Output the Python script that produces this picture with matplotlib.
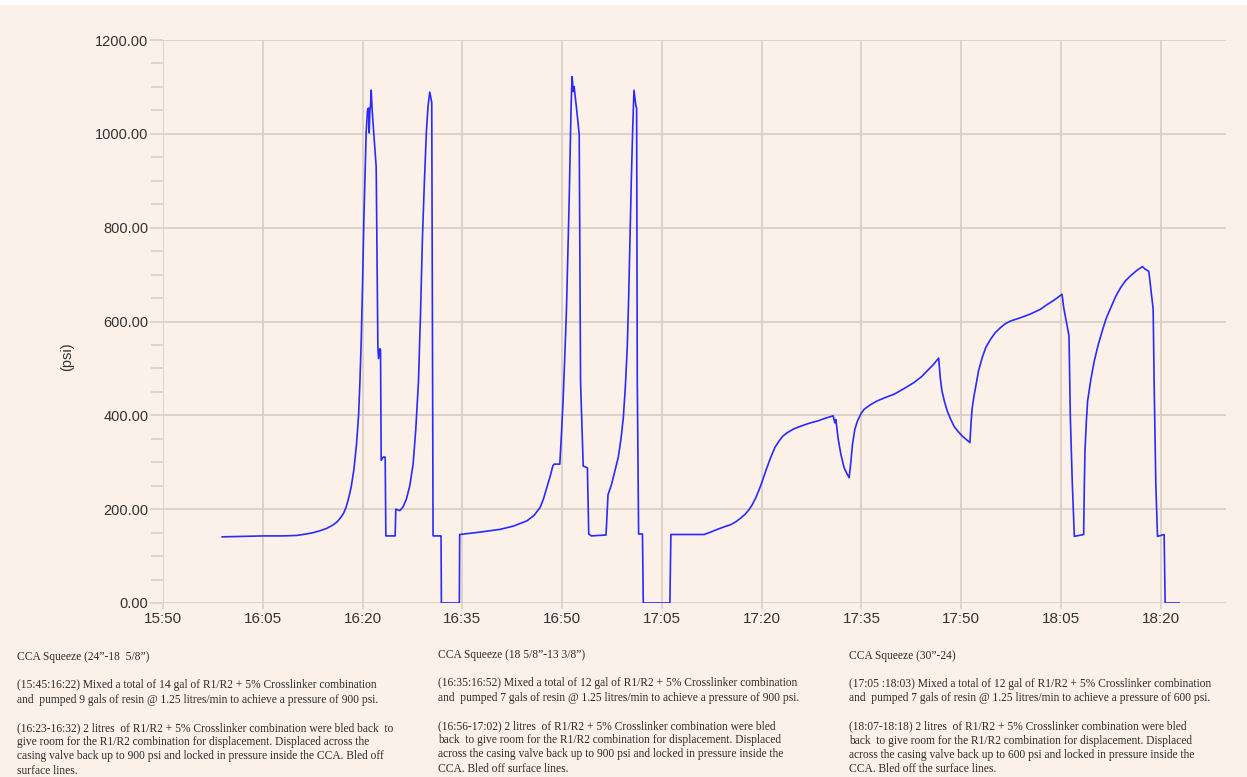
import matplotlib
matplotlib.use("Agg")
import matplotlib.pyplot as plt
from matplotlib.ticker import MultipleLocator
from matplotlib.patches import Rectangle

# ---- data: minutes after 15:50 and pressure (psi) ----
minutes = [8.9, 12, 15.1, 18, 20.1, 21.5, 22.6, 23.6, 24.6, 25.4, 26.1, 26.6, 27.1, 27.5,
           27.8, 28.1, 28.3, 28.7, 29.1, 29.4, 29.6, 29.8, 30.0, 30.2, 30.4, 30.55, 30.75,
           30.9, 31.0, 31.1, 31.2, 31.3, 31.45, 31.75, 32.05, 32.3, 32.4, 32.6, 32.7, 32.8,
           33.1, 33.4, 33.5, 34.9, 35.0, 35.6, 36.1, 36.6, 37.1, 37.6, 38.0, 38.4, 38.7,
           39.0, 39.3, 39.6, 39.85, 40.1, 40.4, 40.6, 41.8, 41.85, 44.55, 44.6, 47.6, 50.7,
           52.7, 54.7, 55.8, 56.7, 57.2, 57.7, 58.2, 58.6, 58.8, 59.65, 59.9, 60.15, 60.4,
           60.65, 60.85, 61.05, 61.2, 61.35, 61.5, 61.66, 61.8, 62.2, 62.57, 62.77, 63.17,
           63.8, 64.0, 64.4, 66.6, 66.9, 67.2, 67.45, 67.9, 68.45, 68.85, 69.2, 69.5, 69.8,
           70.0, 70.2, 70.4, 70.6, 70.8, 71.1, 71.2, 71.3, 71.5, 72.08, 72.2, 76.2, 76.35,
           81.35, 82.3, 83.35, 84.3, 85.35, 86.1, 86.85, 87.5, 88.1, 88.6, 89.1, 89.6, 90.1,
           90.7, 91.35, 92.0, 92.6, 93.2, 93.85, 94.8, 95.9, 97.1, 98.4, 99.6, 100.75,
           101.0, 101.15, 101.5, 101.9, 102.4, 102.8, 103.15, 103.4, 103.65, 104.0, 104.4,
           104.9, 105.4, 106.4, 107.4, 108.6, 109.9, 111.4, 112.9, 114.0, 114.9, 115.8,
           116.6, 116.85, 117.1, 117.5, 117.9, 118.4, 118.9, 119.5, 120.15, 120.7, 121.3,
           121.5, 121.65, 121.9, 122.15, 122.6, 123.15, 123.7, 124.4, 125.1, 125.9, 126.6,
           127.4, 128.9, 130.4, 131.9, 132.9, 133.9, 135.15, 135.4, 135.8, 136.2, 136.4,
           136.7, 137.0, 138.4, 138.5, 138.6, 138.8, 139.0, 139.5, 140.0, 140.6, 141.2,
           141.8, 142.5, 143.2, 144.0, 144.7, 145.5, 146.4, 147.25, 147.6, 148.2, 148.85,
           149.0, 149.25, 149.5, 150.5, 150.65, 152.75]
pressure = [141, 142, 143, 143, 144, 147, 150, 154, 159, 165, 172, 180, 190, 203,
            218, 235, 248, 285, 340, 400, 470, 560, 680, 820, 930, 1006, 1051,
            1055, 1002, 1050, 1060, 1093, 1048, 990, 929, 548, 521, 542, 540, 304,
            311, 311, 143, 143, 200, 197, 205, 222, 250, 296, 370, 471, 610,
            777, 900, 1006, 1060, 1089, 1067, 143, 143, 0, 0, 146, 151, 157,
            164, 175, 187, 204, 222, 246, 270, 292, 296, 296, 360, 433, 525,
            624, 740, 853, 960, 1060, 1122, 1090, 1101, 1050, 998, 472, 292,
            288, 147, 143, 145, 231, 243, 254, 280, 311, 350, 395, 460, 548,
            650, 777, 900, 1006, 1093, 1059, 1055, 472, 147, 147, 0, 0, 146,
            146, 151, 157, 162, 167, 173, 181, 189, 199, 210, 224, 241, 260,
            285, 310, 332, 345, 356, 363, 371, 377, 383, 388, 394, 399,
            384, 391, 350, 317, 288, 276, 267, 300, 338, 370, 388,
            403, 413, 423, 431, 438, 445, 457, 470, 482, 495, 508,
            522, 480, 452, 428, 409, 392, 377, 366, 356, 349, 342,
            390, 416, 440, 459, 495, 523, 545, 562, 576, 587, 595,
            601, 608, 616, 626, 636, 645, 658, 630, 600, 569, 395,
            253, 142, 146, 250, 324, 385, 431, 478, 516, 551, 580,
            607, 630, 653, 673, 687, 698, 709, 717, 712, 707, 626,
            466, 253, 142, 146, 0, 0]

x_tick_minutes = [0, 15, 30, 45, 60, 75, 90, 105, 120, 135, 150]
x_tick_labels = ["15:50", "16:05", "16:20", "16:35", "16:50", "17:05",
                 "17:20", "17:35", "17:50", "18:05", "18:20"]
y_ticks = [0, 200, 400, 600, 800, 1000, 1200]

notes = [
    ["CCA Squeeze (24\u201d-18  5/8\u201d)",
     "",
     "(15:45:16:22) Mixed a total of 14 gal of R1/R2 + 5% Crosslinker combination",
     "and  pumped 9 gals of resin @ 1.25 litres/min to achieve a pressure of 900 psi.",
     "",
     "(16:23-16:32) 2 litres  of R1/R2 + 5% Crosslinker combination were bled back  to",
     "give room for the R1/R2 combination for displacement. Displaced across the",
     "casing valve back up to 900 psi and locked in pressure inside the CCA. Bled off",
     "surface lines."],
    ["CCA Squeeze (18 5/8\u201d-13 3/8\u201d)",
     "",
     "(16:35:16:52) Mixed a total of 12 gal of R1/R2 + 5% Crosslinker combination",
     "and  pumped 7 gals of resin @ 1.25 litres/min to achieve a pressure of 900 psi.",
     "",
     "(16:56-17:02) 2 litres  of R1/R2 + 5% Crosslinker combination were bled",
     "back  to give room for the R1/R2 combination for displacement. Displaced",
     "across the casing valve back up to 900 psi and locked in pressure inside the",
     "CCA. Bled off surface lines."],
    ["CCA Squeeze (30\u201d-24)",
     "",
     "(17:05 :18:03) Mixed a total of 12 gal of R1/R2 + 5% Crosslinker combination",
     "and  pumped 7 gals of resin @ 1.25 litres/min to achieve a pressure of 600 psi.",
     "",
     "(18:07-18:18) 2 litres  of R1/R2 + 5% Crosslinker combination were bled",
     "back  to give room for the R1/R2 combination for displacement. Displaced",
     "across the casing valve back up to 600 psi and locked in pressure inside the",
     "CCA. Bled off the surface lines."],
]

# ---- styling ----
BG = "#fcf1e9"
GRID = "#d9d0c7"
LINE = "#2a2aff"
W, H = 1247, 777

fig = plt.figure(figsize=(W / 100, H / 100), dpi=100, facecolor=BG)
ax = fig.add_axes([163 / W, 1 - 603 / H, (1226 - 163) / W, (603 - 40) / H])
ax.set_facecolor(BG)

ax.plot(minutes, pressure, color=LINE, lw=1.2, solid_joinstyle="round")

ax.set_xlim(0, 159.8)
ax.set_ylim(0, 1200)
ax.set_xticks(x_tick_minutes)
ax.set_xticklabels(x_tick_labels)
ax.set_yticks(y_ticks)
ax.set_yticklabels([f"{v:.2f}" for v in y_ticks])
ax.yaxis.set_minor_locator(MultipleLocator(50))

for s in ax.spines.values():
    s.set_visible(False)

ax.grid(True, which="major", color=GRID, lw=1.3)
ax.set_axisbelow(True)

ax.tick_params(axis="y", which="major", length=9.5, width=1.2, color=GRID, pad=1,
               labelsize=10.5, labelcolor="#333333")
ax.tick_params(axis="y", which="minor", length=8.3, width=1.2, color=GRID)
ax.tick_params(axis="x", which="major", length=4.5, width=1.2, color=GRID, pad=2,
               labelsize=11, labelcolor="#333333")
for lab in ax.get_xticklabels() + ax.get_yticklabels():
    lab.set_family(["Liberation Sans", "DejaVu Sans"])

fig.text(67 / W, 1 - 357 / H, "(psi)", rotation=90, ha="center", va="center",
         fontsize=10.5, color="#333333", family=["Liberation Sans", "DejaVu Sans"])

# ---- notes below the chart ----
block_x = [17, 438, 849]
block_y0 = [657, 655, 655.5]
spacing = 14.2
for bx, by, lines in zip(block_x, block_y0, notes):
    y = by
    for ln in lines:
        if ln:
            fig.text(bx / W, 1 - y / H, ln, ha="left", va="center", fontsize=8.3,
                     color="#2b2b2b", family=["Liberation Serif", "DejaVu Serif"])
        y += spacing

# white strip at top
fig.patches.append(Rectangle((0, 1 - 5 / H), 1, 5 / H, transform=fig.transFigure,
                             facecolor="white", edgecolor="none", zorder=-1))

fig.savefig("out.png", dpi=100, facecolor=BG)
